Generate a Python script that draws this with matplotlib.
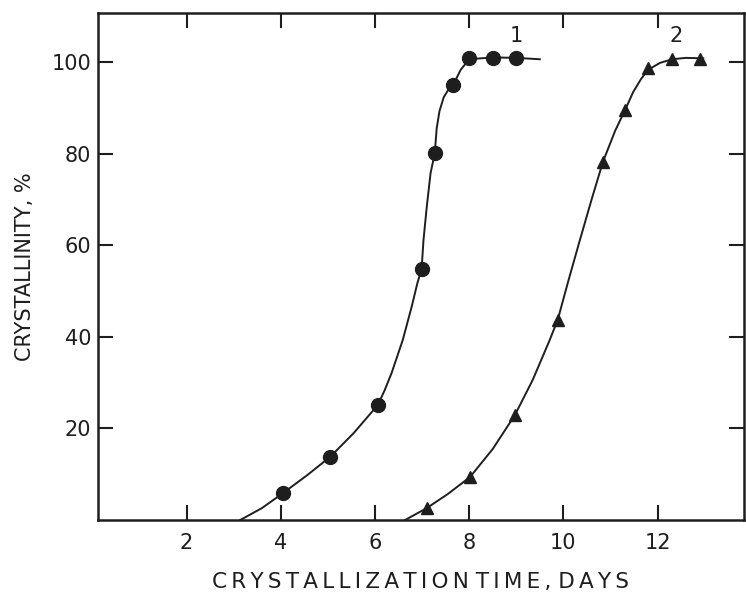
import matplotlib
matplotlib.use("Agg")
import matplotlib.pyplot as plt

# measured points, curve 1 (circles)
x1 = [4.05, 5.05, 6.06, 6.99, 7.27, 7.66, 8.0, 8.5, 9.0]
y1 = [5.9, 13.8, 25.1, 54.8, 80.1, 95.0, 100.9, 100.9, 100.9]
# hand-drawn fitted line through curve 1
cx1 = [3.14, 3.6, 4.05, 4.55, 5.05, 5.55, 6.06, 6.2, 6.35, 6.59, 6.78, 6.9, 6.99,
       7.03, 7.10, 7.18, 7.27, 7.31, 7.37, 7.46, 7.56, 7.66, 7.82, 8.0, 8.5, 9.0, 9.5]
cy1 = [0.0, 2.6, 5.9, 9.7, 13.8, 19.0, 25.1, 28.2, 32.0, 39.3, 46.6, 51.7, 54.8,
       61.1, 68.4, 75.7, 80.1, 85.5, 89.3, 92.3, 94.0, 95.0, 98.3, 100.6, 101.0, 100.9, 100.6]

# measured points, curve 2 (triangles)
x2 = [7.1, 8.02, 8.97, 9.88, 10.84, 11.31, 11.8, 12.31, 12.9]
y2 = [2.6, 9.4, 22.9, 43.7, 78.2, 89.5, 98.7, 100.7, 100.7]
cx2 = [6.64, 7.1, 7.55, 8.02, 8.5, 8.97, 9.35, 9.71, 9.88, 10.1, 10.35, 10.6,
       10.84, 11.1, 11.31, 11.48, 11.65, 11.8, 12.05, 12.31, 12.6, 12.97]
cy2 = [0.0, 2.6, 5.7, 9.4, 15.5, 22.9, 30.6, 39.3, 43.7, 52.0, 61.1, 70.0,
       78.2, 85.0, 89.5, 93.4, 96.3, 98.3, 99.8, 100.6, 100.9, 100.8]

xticks = [2, 4, 6, 8, 10, 12]
yticks = [20, 40, 60, 80, 100]

ink = "#1e1e1e"
plt.rcParams['font.family'] = ['DejaVu Sans']

fig = plt.figure(figsize=(7.46, 5.93), dpi=100)
ax = fig.add_axes([0.1314, 0.1231, 0.8656, 0.8550])

ax.plot(cx1, cy1, color=ink, lw=1.4)
ax.plot(x1, y1, "o", color=ink, ms=10, mec=ink)
ax.plot(cx2, cy2, color=ink, lw=1.4)
ax.plot(x2, y2, "^", color=ink, ms=9, mec=ink)

ax.text(9.0, 103.5, "1", fontsize=15, color=ink, ha="center", va="bottom")
ax.text(12.4, 103.5, "2", fontsize=15, color=ink, ha="center", va="bottom")

ax.set_xlim(0.12, 13.83)
ax.set_ylim(0, 110.7)
ax.set_xticks(xticks)
ax.set_yticks(yticks)
ax.tick_params(direction="in", length=11, width=1.5, color=ink, labelcolor=ink,
               labelsize=15, top=True, right=True)
ax.tick_params(axis="x", pad=9)
ax.tick_params(axis="y", pad=5)
for s in ax.spines.values():
    s.set_linewidth(1.8)
    s.set_color(ink)

ax.set_xlabel("C R Y S T A L L I Z A T I O N   T I M E ,   D A Y S".replace(" ", "\u2009").replace("\u2009\u2009\u2009", " "),
              fontsize=15.5, color=ink, labelpad=14)
ax.set_ylabel("CRYSTALLINITY, %", fontsize=15, color=ink, labelpad=12)

fig.savefig("out.png", dpi=100)
